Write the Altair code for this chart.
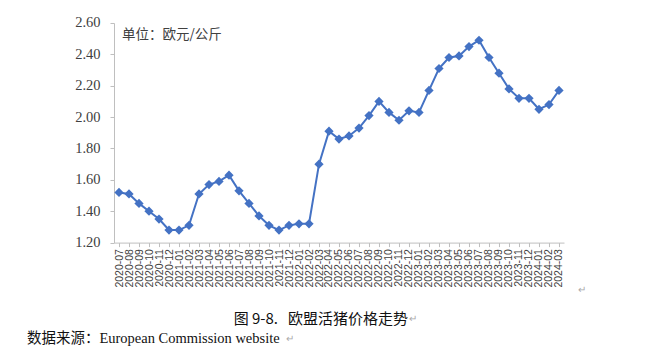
import altair as alt
import pandas as pd

months = [
    "2020-07", "2020-08", "2020-09", "2020-10", "2020-11", "2020-12",
    "2021-01", "2021-02", "2021-03", "2021-04", "2021-05", "2021-06",
    "2021-07", "2021-08", "2021-09", "2021-10", "2021-11", "2021-12",
    "2022-01", "2022-02", "2022-03", "2022-04", "2022-05", "2022-06",
    "2022-07", "2022-08", "2022-09", "2022-10", "2022-11", "2022-12",
    "2023-01", "2023-02", "2023-03", "2023-04", "2023-05", "2023-06",
    "2023-07", "2023-08", "2023-09", "2023-10", "2023-11", "2023-12",
    "2024-01", "2024-02", "2024-03",
]
prices = [
    1.52, 1.51, 1.45, 1.40, 1.35, 1.28,
    1.28, 1.31, 1.51, 1.57, 1.59, 1.63,
    1.53, 1.45, 1.37, 1.31, 1.28, 1.31,
    1.32, 1.32, 1.70, 1.91, 1.86, 1.88,
    1.93, 2.01, 2.10, 2.03, 1.98, 2.04,
    2.03, 2.17, 2.31, 2.38, 2.39, 2.45,
    2.49, 2.38, 2.28, 2.18, 2.12, 2.12,
    2.05, 2.08, 2.17,
]
y_ticks = [1.20, 1.40, 1.60, 1.80, 2.00, 2.20, 2.40, 2.60]

unit_text = ["单位：欧元/公斤"]
title_text = ["图 9-8.\u00a0\u00a0\u00a0欧盟活猪价格走势"]
source_text = ["数据来源：European Commission website"]

df = pd.DataFrame({"month": months, "price": prices})

color = "#4472C4"

x_enc = alt.X(
    "month:O",
    sort=None,
    title=None,
    scale=alt.Scale(paddingInner=0, paddingOuter=0),
    axis=alt.Axis(
        labelAngle=-90,
        labelFont="Liberation Sans",
        labelFontSize=10.5,
        labelColor="#404040",
        labelPadding=2,
        tickSize=4,
        tickColor="#bfbfbf",
        domainColor="#bfbfbf",
        grid=False,
    ),
)
y_enc = alt.Y(
    "price:Q",
    title=None,
    scale=alt.Scale(domain=[1.2, 2.6], nice=False, zero=False),
    axis=alt.Axis(
        values=y_ticks,
        format=".2f",
        labelFont="Liberation Serif",
        labelFontSize=14.5,
        labelColor="#404040",
        labelPadding=10,
        tickSize=4,
        tickColor="#bfbfbf",
        domainColor="#bfbfbf",
        grid=False,
    ),
)

base = alt.Chart(df)
line = base.mark_line(color=color, strokeWidth=2).encode(x=x_enc, y=y_enc)
pts = base.mark_point(shape="diamond", filled=True, color=color, size=85, opacity=1).encode(
    x=x_enc, y=y_enc
)

unit = alt.Chart(pd.DataFrame({"t": unit_text})).mark_text(
    align="left", baseline="middle", font="Noto Sans CJK SC", fontSize=13.5, color="#404040"
).encode(text="t:N", x=alt.value(8), y=alt.value(12))

title = alt.Chart(pd.DataFrame({"t": title_text})).mark_text(
    align="right", baseline="middle", font="Noto Sans CJK SC", fontSize=15, color="#111111"
).encode(text="t:N", x=alt.value(294), y=alt.value(296))

source = alt.Chart(pd.DataFrame({"t": source_text})).mark_text(
    align="left", baseline="middle", font="Liberation Serif, Noto Sans CJK SC", fontSize=14.5, color="#111111"
).encode(text="t:N", x=alt.value(-87), y=alt.value(316))

marks = alt.Chart(pd.DataFrame({"t": ["↵", "↵", "↵"], "xx": [464, 295, 172], "yy": [267, 296, 316]})).mark_text(
    align="left", baseline="middle", font="Liberation Sans", fontSize=10, color="#aaaaaa"
).encode(text="t:N", x=alt.X("xx:Q", scale=None), y=alt.Y("yy:Q", scale=None))

chart = alt.layer(line, pts, unit, title, source, marks).properties(
    width=450,
    height=219.6,
    autosize=alt.AutoSizeParams(type="none"),
    padding={"left": 114, "top": 23, "right": 82, "bottom": 117},
    background="white",
).configure_view(stroke=None)

chart.save("out.html", embed_options={"renderer": "svg", "actions": False})
